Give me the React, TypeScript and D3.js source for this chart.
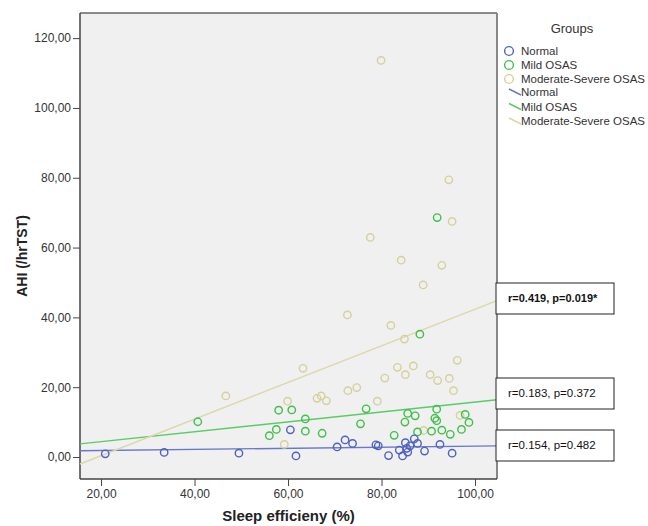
import React, { useRef, useEffect } from "react";
import * as d3 from "d3";

// sleep efficiency (%) / AHI (/hrTST) per group
const normalX = [20.9, 33.5, 49.5, 60.5, 61.7, 70.5, 72.2, 73.8, 78.8, 79.3, 81.5, 83.8, 84.5, 85.1, 85.4, 85.6, 86.1, 87.0, 87.7, 89.2, 92.5, 95.1];
const normalY = [0.9, 1.3, 1.1, 7.8, 0.3, 2.9, 4.9, 3.9, 3.5, 3.2, 0.4, 2.0, 0.3, 4.1, 2.5, 1.4, 3.2, 5.2, 3.9, 1.7, 3.6, 1.1];

const mildX = [40.7, 58.0, 60.8, 63.7, 56.0, 57.5, 63.7, 67.3, 76.7, 75.5, 82.7, 85.0, 85.6, 87.2, 87.7, 90.7, 91.4, 91.8, 91.8, 92.9, 94.7, 97.1, 97.9, 98.7, 88.2, 91.9];
const mildY = [10.1, 13.4, 13.5, 10.9, 6.1, 7.9, 7.4, 6.8, 13.8, 9.5, 6.2, 10.0, 12.5, 11.8, 7.2, 7.4, 11.1, 13.7, 10.4, 7.7, 6.5, 7.9, 12.2, 9.9, 35.2, 68.6];

const severeX = [46.7, 63.2, 59.9, 66.2, 67.1, 68.2, 72.8, 74.7, 79.1, 80.7, 83.4, 85.1, 86.8, 90.4, 92.0, 94.5, 95.4, 96.2, 96.8, 59.2, 89.0, 84.9, 94.4, 95.1, 77.6, 84.2, 92.9, 88.9, 72.7, 82.0, 79.9];
const severeY = [17.5, 25.4, 16.0, 16.8, 17.5, 16.1, 19.0, 19.9, 16.0, 22.6, 25.7, 23.6, 26.1, 23.6, 21.9, 22.5, 19.0, 27.7, 11.9, 3.6, 7.6, 33.8, 79.4, 67.5, 62.9, 56.4, 54.9, 49.3, 40.7, 37.7, 113.6];

const groups = ["Normal", "Mild OSAS", "Moderate-Severe OSAS"];
const pointColors = ["#4f62c0", "#3fbf4c", "#d6d09a"];
const lineColors = ["#6878cc", "#57cd66", "#dcd7ab"];

// fit line end values at the x-domain edges
const fitStartY = [1.8, 3.75, -2.0];
const fitEndY = [3.2, 16.4, 44.8];
const fitLabels = ["r=0.154, p=0.482", "r=0.183, p=0.372", "r=0.419, p=0.019*"];

const yTicks = [0, 20, 40, 60, 80, 100, 120];
const xTicks = [20, 40, 60, 80, 100];

const fmt = (v: number) => d3.format(".2f")(v).replace(".", ",");

function App() {
  const ref = useRef<SVGSVGElement>(null);

  useEffect(() => {
    const svg = d3.select(ref.current);
    svg.selectAll("*").remove();

    const left = 80, right = 497, top = 13, bottom = 479;
    const xDomain: [number, number] = [15.5, 104.7];
    const x = d3.scaleLinear().domain(xDomain).range([left, right]);
    const y = d3.scaleLinear().domain([-6.3, 127.2]).range([bottom, top]);

    // plot background
    svg
      .append("rect")
      .attr("x", left)
      .attr("y", top)
      .attr("width", right - left)
      .attr("height", bottom - top)
      .attr("fill", "#f0f0f0");

    const font = "Liberation Sans, Arial, sans-serif";

    // y axis
    const yAxis = svg
      .append("g")
      .attr("transform", `translate(${left},0)`)
      .call(d3.axisLeft(y).tickValues(yTicks).tickFormat((d) => fmt(+d)).tickSize(7).tickPadding(2));
    yAxis.select(".domain").remove();
    yAxis.selectAll("line").attr("stroke", "#444");
    yAxis.selectAll("text").attr("font-family", font).attr("font-size", 12).attr("fill", "#333");

    // x axis
    const xAxis = svg
      .append("g")
      .attr("transform", `translate(0,${bottom})`)
      .call(d3.axisBottom(x).tickValues(xTicks).tickFormat((d) => fmt(+d)).tickSize(7).tickPadding(3));
    xAxis.select(".domain").remove();
    xAxis.selectAll("line").attr("stroke", "#444");
    xAxis.selectAll("text").attr("font-family", font).attr("font-size", 12).attr("fill", "#333");

    // frame
    svg.append("line").attr("x1", left).attr("x2", right).attr("y1", top).attr("y2", top).attr("stroke", "#666").attr("stroke-width", 1.5);
    svg.append("line").attr("x1", right).attr("x2", right).attr("y1", top).attr("y2", bottom).attr("stroke", "#888").attr("stroke-width", 2);
    svg.append("line").attr("x1", left).attr("x2", left).attr("y1", top).attr("y2", bottom).attr("stroke", "#444").attr("stroke-width", 1.5);
    svg.append("line").attr("x1", left).attr("x2", right).attr("y1", bottom).attr("y2", bottom).attr("stroke", "#444").attr("stroke-width", 1.5);

    // fit lines
    groups.forEach((g, i) => {
      svg
        .append("line")
        .attr("x1", x(xDomain[0]))
        .attr("y1", y(fitStartY[i]))
        .attr("x2", x(xDomain[1]))
        .attr("y2", y(fitEndY[i]))
        .attr("stroke", lineColors[i])
        .attr("stroke-width", 1.4);
    });

    // points
    const series = [
      [normalX, normalY],
      [mildX, mildY],
      [severeX, severeY],
    ];
    [2, 1, 0].forEach((i) => {
      const [xs, ys] = series[i];
      svg
        .append("g")
        .selectAll("circle")
        .data(xs.map((v, k) => [v, ys[k]]))
        .enter()
        .append("circle")
        .attr("cx", (d) => x(d[0]))
        .attr("cy", (d) => y(d[1]))
        .attr("r", 3.7)
        .attr("fill", "none")
        .attr("stroke", pointColors[i])
        .attr("stroke-width", 1.4);
    });

    // axis titles
    svg
      .append("text")
      .attr("transform", `translate(27,${(top + bottom) / 2 + 10}) rotate(-90)`)
      .attr("text-anchor", "middle")
      .attr("font-family", font)
      .attr("font-weight", "bold")
      .attr("font-size", 14)
      .attr("fill", "#222")
      .text("AHI (/hrTST)");

    svg
      .append("text")
      .attr("x", (left + right) / 2)
      .attr("y", 521)
      .attr("text-anchor", "middle")
      .attr("font-family", font)
      .attr("font-weight", "bold")
      .attr("font-size", 15)
      .attr("fill", "#222")
      .text("Sleep efficieny (%)");

    // legend
    const lg = svg.append("g").attr("font-family", font).attr("fill", "#333");
    lg.append("text").attr("x", 572).attr("y", 33).attr("text-anchor", "middle").attr("font-size", 13).text("Groups");
    groups.forEach((g, i) => {
      const yy = 51 + i * 14;
      lg.append("circle").attr("cx", 509).attr("cy", yy).attr("r", 4.4).attr("fill", "none").attr("stroke", pointColors[i]).attr("stroke-width", 1.4);
      lg.append("text").attr("x", 521).attr("y", yy + 4).attr("font-size", 11.5).text(g);
    });
    groups.forEach((g, i) => {
      const yy = 92 + i * 14.5;
      lg.append("line").attr("x1", 509).attr("y1", yy - 3).attr("x2", 521).attr("y2", yy + 3).attr("stroke", lineColors[i]).attr("stroke-width", 1.4);
      lg.append("text").attr("x", 521).attr("y", yy + 4).attr("font-size", 11.5).text(g);
    });

    // r/p annotation boxes
    const boxes = [
      { y: 430, bold: false },
      { y: 378, bold: false },
      { y: 283, bold: true },
    ];
    boxes.forEach((b, i) => {
      svg
        .append("rect")
        .attr("x", 496)
        .attr("y", b.y)
        .attr("width", 118)
        .attr("height", 31)
        .attr("fill", "#fff")
        .attr("stroke", "#222")
        .attr("stroke-width", 1);
      svg
        .append("text")
        .attr("x", 508)
        .attr("y", b.y + 19)
        .attr("font-family", font)
        .attr("font-size", b.bold ? 11 : 11.5)
        .attr("font-weight", b.bold ? "bold" : "normal")
        .attr("fill", "#111")
        .text(fitLabels[i]);
    });
  }, []);

  return (
    <svg
      ref={ref}
      width={648}
      height={526}
      style={{ position: "absolute", left: 0, top: 0, background: "#fff" }}
    ></svg>
  );
}

export default App;
